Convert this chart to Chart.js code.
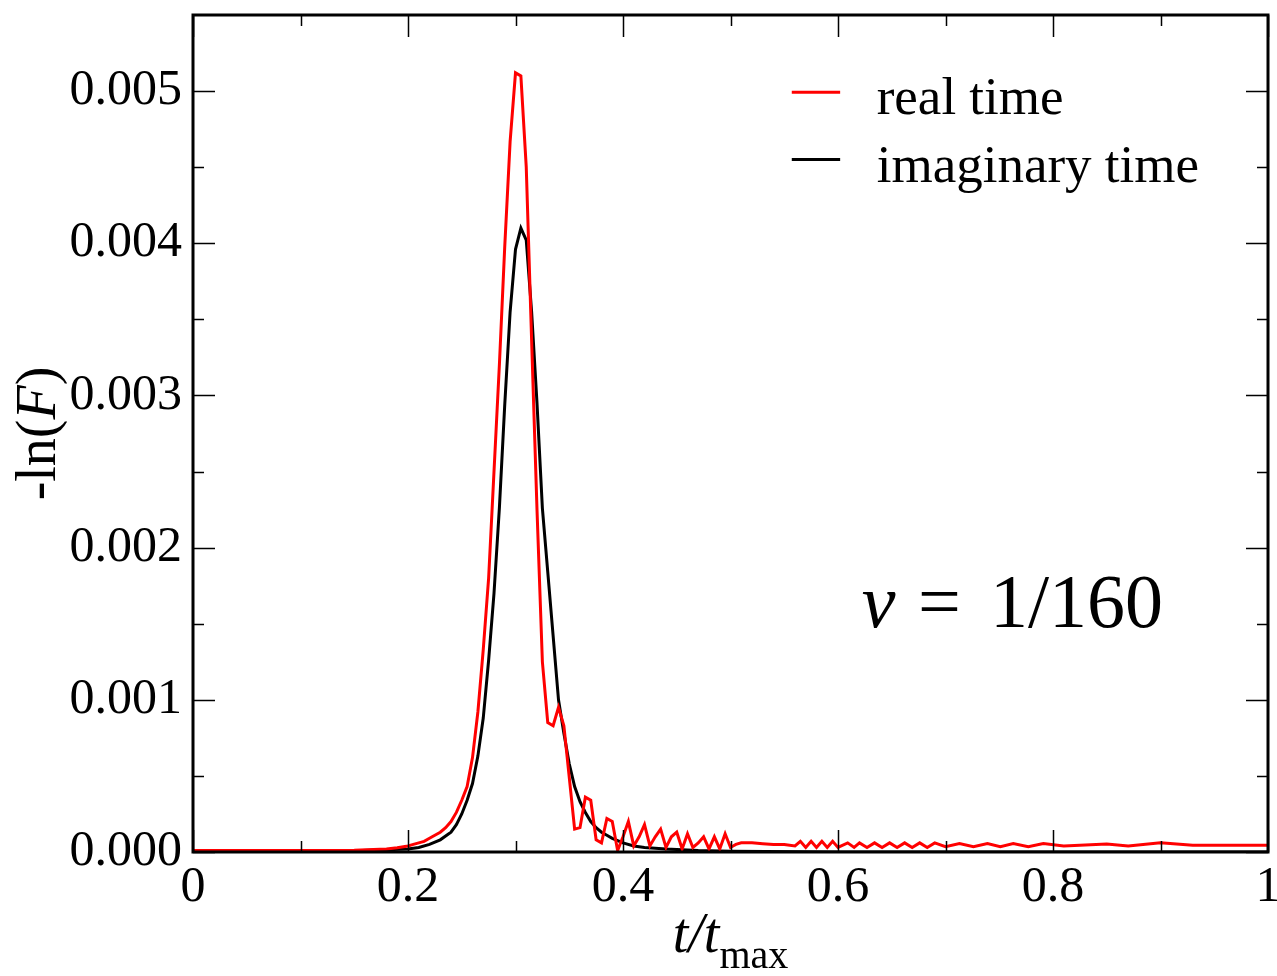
<!DOCTYPE html>
<html>
<head>
<meta charset="utf-8">
<script src="https://cdn.jsdelivr.net/npm/chart.js@4.4.0/dist/chart.umd.min.js"></script>
<style>
  html,body{margin:0;padding:0;background:#fff}
  #wrap{width:1277px;height:976px}
</style>
</head>
<body>
<div id="wrap"><canvas id="chart" width="1277" height="976"></canvas></div>
<script>
/* -ln(F) vs t/tmax, v = 1/160 : real time vs imaginary time */

// real time (red)
const realT = [0,0.05,0.1,0.15,0.18,0.19,0.2,0.205,0.21,0.215,0.22,0.225,0.23,0.235,0.24,0.245,0.25,0.255,0.26,0.265,
  0.27,0.275,0.28,0.285,0.29,0.295,0.3,0.305,0.31,0.315,0.32,0.325,0.33,0.335,0.34,0.345,0.35,0.355,0.36,0.365,
  0.37,0.375,0.38,0.385,0.39,0.395,0.4,0.405,0.41,0.415,0.42,0.425,0.43,0.435,0.44,0.445,0.45,0.455,0.46,0.465,
  0.47,0.475,0.48,0.485,0.49,0.495,0.5,0.505,0.51,0.52,0.53,0.54,0.55,0.56,0.565,0.57,0.575,0.58,0.585,0.59,
  0.595,0.6,0.609,0.615,0.62,0.627,0.634,0.641,0.648,0.655,0.662,0.669,0.676,0.683,0.69,0.7,0.713,0.726,0.739,0.751,
  0.763,0.777,0.791,0.81,0.85,0.87,0.9,0.93,0.96,1.0];
const realF = [0.00001,0.00001,0.00001,0.000012,0.00002,0.000028,0.00004,0.00005,0.00006,0.00007,0.00009,0.00011,0.00013,0.00016,0.0002,0.00026,0.00034,0.00043,0.00062,0.00092,
  0.00133,0.0018,0.0025,0.0032,0.00398,0.00467,0.00512,0.0051,0.0045,0.00336,0.00225,0.00125,0.00085,0.00083,0.00095,0.00083,0.00049,0.00015,0.00016,0.00036,
  0.00034,0.00008,0.00006,0.00022,0.0002,0.00001,0.0001,0.0002,0.00004,0.0001,0.00018,0.00004,0.0001,0.00015,0.00003,0.0001,0.00013,0.00002,0.00012,0.00003,
  0.00006,0.0001,0.00002,0.0001,0.00002,0.00012,0.00003,0.00005,0.00006,0.00006,0.000055,0.00005,0.00005,0.00004,0.00007,0.00003,0.00007,0.00003,0.00007,0.00003,
  0.00007,0.00003,0.00006,0.00003,0.00006,0.00003,0.00006,0.00003,0.00006,0.00003,0.00006,0.00003,0.00006,0.00003,0.00006,0.000035,0.000055,0.000035,0.000055,0.000035,
  0.000055,0.000035,0.000055,0.00004,0.000052,0.00004,0.00006,0.000045,0.000045,0.000045];

// imaginary time (black)
const imagT = [0,0.1,0.15,0.18,0.2,0.21,0.22,0.23,0.24,0.245,0.25,0.255,0.26,0.265,0.27,0.275,0.28,0.285,0.29,0.295,
  0.3,0.305,0.31,0.315,0.32,0.325,0.33,0.335,0.34,0.345,0.35,0.355,0.36,0.365,0.37,0.375,0.38,0.385,0.39,0.4,
  0.41,0.42,0.44,0.47,0.5,0.6,1.0];
const imagF = [0,0.000003,0.000008,0.000014,0.00002,0.00003,0.00005,0.00008,0.00013,0.00018,0.00025,0.00034,0.00045,0.00063,0.00088,0.00126,0.0017,0.00226,0.00294,0.00355,
  0.00396,0.0041,0.00402,0.00355,0.00295,0.00226,0.00184,0.00142,0.001,0.00078,0.00058,0.00043,0.00033,0.00026,0.0002,0.00016,0.00013,0.00011,0.00009,0.00006,
  0.00004,0.00003,0.00002,0.00001,0.000005,0,0];

const xRange = [0, 1], yRange = [0, 0.0055];
const xStep = 0.2, yStep = 0.001;

const SERIF = '"Liberation Serif", "Times New Roman", serif';
const pts = (xs, ys) => xs.map((t, i) => ({x: t, y: ys[i]}));

// frame, inward ticks on all four sides, legend and labels
const decor = {
  id: 'decor',
  afterDraw(chart) {
    const {ctx, chartArea: a, scales: {x, y}} = chart;
    ctx.save();
    ctx.strokeStyle = '#000';
    ctx.lineWidth = 1.5;
    const tick = (scale, v, len, horiz) => {
      const p = Math.round(scale.getPixelForValue(v)) + 0.5;
      ctx.beginPath();
      if (horiz) {
        ctx.moveTo(p, a.bottom); ctx.lineTo(p, a.bottom - len);
        ctx.moveTo(p, a.top); ctx.lineTo(p, a.top + len);
      } else {
        ctx.moveTo(a.left, p); ctx.lineTo(a.left + len, p);
        ctx.moveTo(a.right, p); ctx.lineTo(a.right - len, p);
      }
      ctx.stroke();
    };
    [[x, true], [y, false]].forEach(([s, h]) => {
      const vals = s.ticks.map(t => t.value);
      vals.forEach((v, i) => {
        tick(s, v, 22, h);
        if (i < vals.length - 1) tick(s, (v + vals[i + 1]) / 2, 11, h);
      });
    });
    ctx.lineWidth = 3;
    ctx.strokeRect(a.left, a.top, a.right - a.left, a.bottom - a.top);

    // legend
    ctx.font = '53px ' + SERIF;
    ctx.textBaseline = 'alphabetic';
    ctx.textAlign = 'left';
    const rows = [0.004993, 0.00455];
    chart.data.datasets.forEach((ds, i) => {
      const ly = y.getPixelForValue(rows[i]);
      ctx.strokeStyle = ds.borderColor;
      ctx.lineWidth = 3;
      ctx.beginPath();
      ctx.moveTo(x.getPixelForValue(0.557), ly);
      ctx.lineTo(x.getPixelForValue(0.602), ly);
      ctx.stroke();
      ctx.fillStyle = '#000';
      ctx.fillText(ds.label, x.getPixelForValue(0.636), ly + 22);
    });

    // v = 1/160
    const by = y.getPixelForValue(0.00148);
    ctx.font = 'italic 76px ' + SERIF;
    ctx.fillText('v', x.getPixelForValue(0.622), by);
    ctx.font = '76px ' + SERIF;
    ctx.fillText('=', x.getPixelForValue(0.6744), by);
    ctx.fillText('1/160', x.getPixelForValue(0.7414), by);

    // x title: t/t_max
    ctx.font = 'italic 56px ' + SERIF;
    const w1 = ctx.measureText('t/t').width;
    ctx.font = '40px ' + SERIF;
    const w2 = ctx.measureText('max').width;
    const cx = (a.left + a.right) / 2 - (w1 + w2) / 2;
    ctx.font = 'italic 56px ' + SERIF;
    ctx.fillText('t/t', cx, 952);
    ctx.font = '40px ' + SERIF;
    ctx.fillText('max', cx + w1, 968);

    // y title: -ln(F)
    ctx.translate(40, (a.top + a.bottom) / 2);
    ctx.rotate(-Math.PI / 2);
    const parts = [['-ln(', ''], ['F', 'italic '], [')', '']];
    let tw = 0;
    parts.forEach(p => { ctx.font = p[1] + '56px ' + SERIF; tw += ctx.measureText(p[0]).width; });
    let px = -tw / 2;
    ctx.textBaseline = 'middle';
    parts.forEach(p => {
      ctx.font = p[1] + '56px ' + SERIF;
      ctx.fillText(p[0], px, 0);
      px += ctx.measureText(p[0]).width;
    });
    ctx.restore();
  }
};

new Chart(document.getElementById('chart'), {
  type: 'line',
  data: {
    datasets: [
      { label: 'real time', data: pts(realT, realF), borderColor: '#ff0000', borderWidth: 3, pointRadius: 0, tension: 0, fill: false },
      { label: 'imaginary time', data: pts(imagT, imagF), borderColor: '#000000', borderWidth: 3, pointRadius: 0, tension: 0, fill: false }
    ]
  },
  options: {
    responsive: false,
    animation: false,
    devicePixelRatio: 1,
    layout: { padding: { top: 15, right: 9, left: 0, bottom: 0 } },
    plugins: { legend: { display: false }, tooltip: { enabled: false } },
    scales: {
      x: {
        type: 'linear', min: xRange[0], max: xRange[1],
        grid: { display: false, drawTicks: false },
        border: { display: false },
        ticks: {
          stepSize: xStep, padding: 6, color: '#000', maxRotation: 0,
          font: { family: SERIF, size: 50 },
          callback: v => (v === 0 ? '0' : v === 1 ? '1' : v.toFixed(1))
        },
        afterFit: s => { s.height = 124; s.paddingLeft = 0; s.paddingRight = 0; }
      },
      y: {
        type: 'linear', min: yRange[0], max: yRange[1],
        grid: { display: false, drawTicks: false },
        border: { display: false },
        ticks: {
          stepSize: yStep, includeBounds: false, padding: 11, color: '#000',
          font: { family: SERIF, size: 50 },
          callback: v => v.toFixed(3)
        },
        afterFit: s => { s.width = 193; s.paddingTop = 0; s.paddingBottom = 0; }
      }
    }
  },
  plugins: [decor]
});
</script>
</body>
</html>
